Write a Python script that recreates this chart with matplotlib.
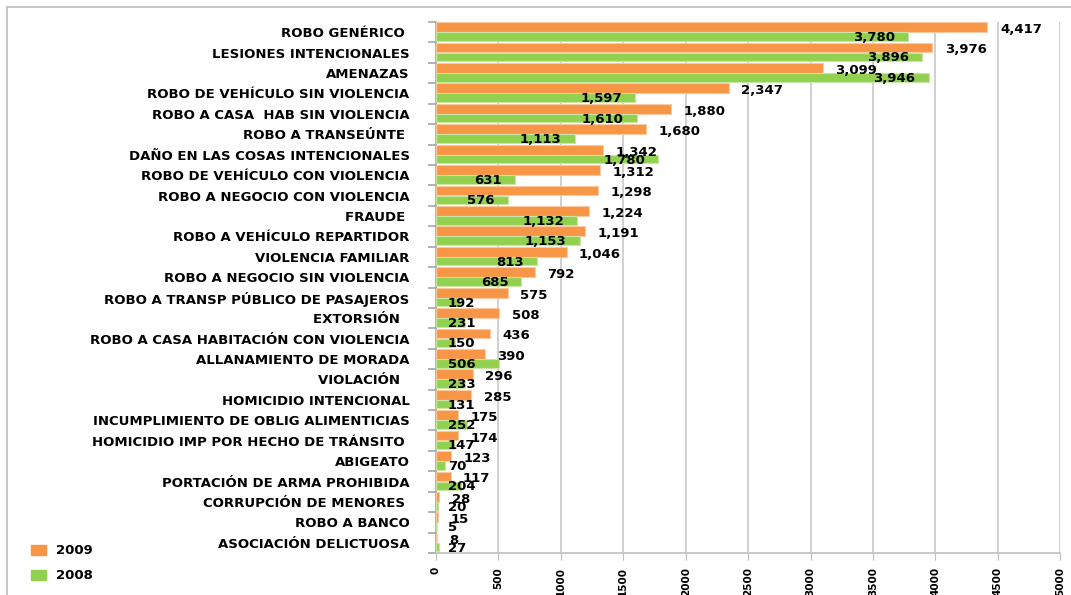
import numpy as np
import matplotlib.pyplot as plt
from matplotlib.patches import Rectangle, Patch

categories = [
    "ROBO GENÉRICO ", "LESIONES INTENCIONALES", "AMENAZAS",
    "ROBO DE VEHÍCULO SIN VIOLENCIA", "ROBO A CASA  HAB SIN VIOLENCIA",
    "ROBO A TRANSEÚNTE ", "DAÑO EN LAS COSAS INTENCIONALES",
    "ROBO DE VEHÍCULO CON VIOLENCIA", "ROBO A NEGOCIO CON VIOLENCIA",
    "FRAUDE ", "ROBO A VEHÍCULO REPARTIDOR", "VIOLENCIA FAMILIAR",
    "ROBO A NEGOCIO SIN VIOLENCIA", "ROBO A TRANSP PÚBLICO DE PASAJEROS",
    "EXTORSIÓN  ", "ROBO A CASA HABITACIÓN CON VIOLENCIA",
    "ALLANAMIENTO DE MORADA", "VIOLACIÓN  ", "HOMICIDIO INTENCIONAL",
    "INCUMPLIMIENTO DE OBLIG ALIMENTICIAS", "HOMICIDIO IMP POR HECHO DE TRÁNSITO ",
    "ABIGEATO", "PORTACIÓN DE ARMA PROHIBIDA", "CORRUPCIÓN DE MENORES ",
    "ROBO A BANCO", "ASOCIACIÓN DELICTUOSA",
]
values_2009 = [4417, 3976, 3099, 2347, 1880, 1680, 1342, 1312, 1298, 1224,
               1191, 1046, 792, 575, 508, 436, 390, 296, 285, 175, 174, 123,
               117, 28, 15, 8]
values_2008 = [3780, 3896, 3946, 1597, 1610, 1113, 1780, 631, 576, 1132,
               1153, 813, 685, 192, 231, 150, 506, 233, 131, 252, 147, 70,
               204, 20, 5, 27]
xticks = list(range(0, 5001, 500))

orange = '#F79646'
green = '#92D050'

fig = plt.figure(figsize=(10.71, 5.95), dpi=100)
ax = fig.add_axes([0.407, 0.0706, 0.583, 0.8924])

y = np.arange(len(categories))
ax.barh(y - 0.25, values_2009, height=0.48, color=orange,
        edgecolor='#FAC9A0', linewidth=0.8, zorder=3, label='2009')
ax.barh(y + 0.21, values_2008, height=0.42, color=green,
        edgecolor='#C8E7A4', linewidth=0.8, zorder=3, label='2008')

lab_font = dict(fontsize=9.5, fontweight='bold', color='black', zorder=4)
for i, (a, b) in enumerate(zip(values_2009, values_2008)):
    ax.text(a + 100, i - 0.13, f"{a:,}", ha='left', va='center', **lab_font)
    if b > 520:
        ax.text(b - 105, i + 0.26, f"{b:,}", ha='right', va='center', **lab_font)
    else:
        ax.text(95, i + 0.26, f"{b:,}", ha='left', va='center', **lab_font)

ax.set_xlim(0, 5000)
ax.set_ylim(len(categories) - 0.5, -0.5)
ax.set_xticks(xticks)
ax.set_xticklabels([str(t) for t in xticks], rotation=90, fontsize=7.5,
                   fontweight='bold')
ax.set_yticks(y)
ax.set_yticklabels(categories, fontsize=9.5, fontweight='bold')
ax.set_yticks(np.arange(len(categories) + 1) - 0.5, minor=True)
ax.tick_params(axis='y', which='major', length=0, pad=19)
ax.tick_params(axis='y', which='minor', length=6, color='#a6a6a6', width=1.2)
ax.tick_params(axis='x', length=5, color='#bfbfbf', pad=5)
ax.grid(axis='x', color='#c8c8c8', linewidth=1.2, zorder=0)
for side in ['top', 'right']:
    ax.spines[side].set_visible(False)
ax.spines['left'].set_color('#a6a6a6')
ax.spines['left'].set_linewidth(1.2)
ax.spines['bottom'].set_color('#bfbfbf')
ax.spines['bottom'].set_linewidth(1.2)

# outer frame of the chart area
fig.patches.append(Rectangle((7 / 1071, -0.1), 1.2, 1 - 7 / 595 + 0.1,
                             transform=fig.transFigure, fill=False,
                             edgecolor='#bdbdbd', linewidth=1.2))

handles = [Patch(color=orange, label='2009'), Patch(color=green, label='2008')]
fig.legend(handles=handles, loc='upper left', bbox_to_anchor=(0.018, 0.105),
           frameon=False, handlelength=1.1, handleheight=0.8,
           labelspacing=0.9, prop={'size': 9.5, 'weight': 'bold'})

plt.savefig('out.png', dpi=100)
